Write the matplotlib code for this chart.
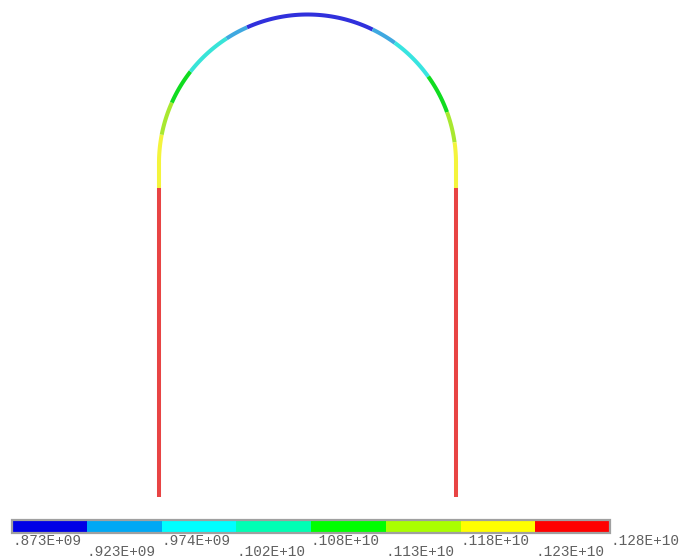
import numpy as np
from matplotlib import pyplot as plt
from matplotlib import colors as mcolors
from matplotlib import colorbar as mcolorbar

# contour levels of the legend
levels = [.873e9, .923e9, .974e9, .102e10, .108e10, .113e10, .118e10, .123e10, .128e10]
level_labels = ['.873E+09', '.923E+09', '.974E+09', '.102E+10', '.108E+10',
                '.113E+10', '.118E+10', '.123E+10', '.128E+10']
band_colors = ['#0000e6', '#00a8f4', '#00ffff', '#00ffb4',
               '#00ff00', '#aaff00', '#ffff00', '#ff0000']

# section read along the arch: angle above the spring line (deg), left to right
arc_angles = [0, 11, 24, 38, 57, 66, 116, 126, 144.4, 160, 172, 180]
arc_colors = ['#f4f43c', '#a8e830', '#10dc20', '#38e4d8', '#3fa8e0', '#3030dc',
              '#3fa8e0', '#38e4e0', '#10dc20', '#a8e830', '#f4f43c']

# arch and wall geometry in image pixels
center_x, center_y = 307.5, 163.
radius = 148.5
yellow_end = 187.5
wall_end = 497.
wall_color = '#e84444'
yellow_color = '#f4f43c'

W, H = 679, 556
fig = plt.figure(figsize=(W / 100, H / 100), dpi=100, facecolor='white')

ax = fig.add_axes([0, 0, 1, 1])
ax.set_xlim(0, W)
ax.set_ylim(H, 0)
ax.axis('off')

line_args = {'linewidth': 2.9, 'solid_capstyle': 'butt'}

# arch, one piece for each contour band
for k in range(len(arc_colors)):
    theta = np.radians(np.linspace(arc_angles[k], arc_angles[k + 1], 40))
    ax.plot(center_x - radius * np.cos(theta), center_y - radius * np.sin(theta),
            c=arc_colors[k], **line_args)

# walls
for side in [-1, 1]:
    x = center_x + side * radius
    ax.plot([x, x], [center_y, yellow_end], c=yellow_color, **line_args)
    ax.plot([x, x], [yellow_end, wall_end], c=wall_color, **line_args)

# legend bar
bar_left, bar_right, bar_top, bar_bottom = 12, 610, 520, 532.5
cax = fig.add_axes([bar_left / W, 1 - bar_bottom / H,
                    (bar_right - bar_left) / W, (bar_bottom - bar_top) / H])
cmap = mcolors.ListedColormap(band_colors)
norm = mcolors.BoundaryNorm(levels, cmap.N)
cb = mcolorbar.ColorbarBase(cax, cmap=cmap, norm=norm, orientation='horizontal',
                            spacing='uniform', ticks=[])
cb.outline.set_edgecolor('#a0a0a0')
cb.outline.set_linewidth(1.6)
cax.minorticks_off()

# labels under the bar, staggered on two rows
for k, label in enumerate(level_labels):
    x = bar_left + k * (bar_right - bar_left) / (len(level_labels) - 1)
    y = 545 if k % 2 == 0 else 555.5
    ax.text(x, y, label, family='Liberation Mono', fontsize=10.4, color='#606060',
            ha='left', va='baseline', clip_on=False)

fig.savefig('out.png', dpi=100)
